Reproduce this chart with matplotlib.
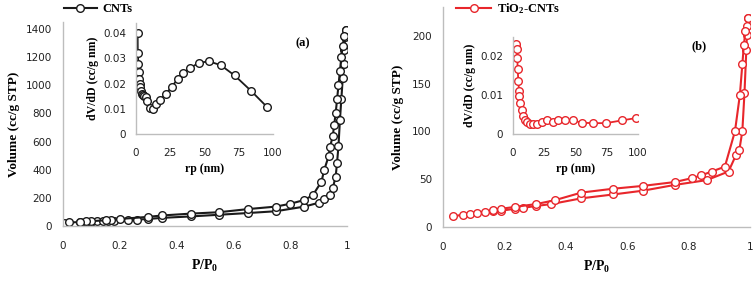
import matplotlib
matplotlib.use("Agg")
import matplotlib.pyplot as plt
from matplotlib.lines import Line2D

plt.rcParams["mathtext.fontset"] = "custom"
plt.rcParams["mathtext.rm"] = "Liberation Serif:bold"
plt.rcParams["mathtext.bf"] = "Liberation Serif:bold"
plt.rcParams["mathtext.it"] = "Liberation Serif:bold"

# ---- data ----
cnt_ads_p = [0.005, 0.02, 0.06, 0.08, 0.1, 0.12, 0.14, 0.16, 0.18, 0.23, 0.26, 0.3, 0.35, 0.45, 0.55,
             0.65, 0.75, 0.85, 0.9, 0.92, 0.94, 0.95, 0.96, 0.965, 0.97, 0.975, 0.98, 0.985, 0.988,
             0.99, 0.993, 0.995]
cnt_ads_v = [18, 25, 28, 30, 31, 32, 33, 35, 37, 40, 45, 50, 58, 68, 80,
             92, 105, 138, 165, 195, 220, 270, 350, 450, 570, 750, 900, 1050, 1150,
             1250, 1340, 1390]
cnt_des_p = [0.995, 0.99, 0.985, 0.98, 0.975, 0.97, 0.965, 0.96, 0.955, 0.95, 0.94, 0.935, 0.92,
             0.91, 0.88, 0.85, 0.8, 0.75, 0.65, 0.55, 0.45, 0.35, 0.3, 0.2, 0.17, 0.15, 0.1,
             0.08, 0.06]
cnt_des_v = [1390, 1350, 1280, 1200, 1100, 1000, 900, 800, 720, 640, 560, 494, 400,
             315, 220, 185, 158, 138, 120, 98, 88, 75, 65, 50, 45, 40, 35,
             32, 30]

tio_ads_p = [0.033, 0.065, 0.087, 0.11, 0.136, 0.163, 0.188, 0.234, 0.26, 0.304, 0.353, 0.451,
             0.554, 0.652, 0.755, 0.859, 0.93, 0.954, 0.965, 0.975, 0.982, 0.988, 0.99, 0.995]
tio_ads_v = [11, 13, 14, 15, 16, 17, 17, 19, 20, 22, 24, 30,
             34, 38, 44, 49, 58, 75, 80, 100, 140, 185, 201, 218]
tio_des_p = [0.995, 0.99, 0.985, 0.98, 0.975, 0.967, 0.951, 0.918, 0.875, 0.842, 0.81, 0.755,
             0.652, 0.554, 0.451, 0.364, 0.304, 0.234, 0.188, 0.163]
tio_des_v = [218, 210, 205, 190, 170, 138, 100, 63, 58, 54, 51, 47,
             43, 40, 36, 28, 24, 21, 19, 18]

cnt_rp = [1.2, 1.3, 1.8, 2.0, 2.2, 2.6, 3.0, 3.5, 4.2, 5.0, 6.0, 7.0, 8.3, 10.3, 12.7, 14.5,
          17.5, 22, 26.2, 30.4, 34.3, 39.7, 45.8, 53.2, 61.8, 72, 83.8, 95.3]
cnt_dvdd = [0.0401, 0.032, 0.0276, 0.0247, 0.022, 0.020, 0.0188, 0.017, 0.016, 0.0155, 0.0150,
            0.0145, 0.0132, 0.0102, 0.0098, 0.0118, 0.0135, 0.016, 0.0188, 0.0218, 0.0242,
            0.0262, 0.0282, 0.0288, 0.0273, 0.0232, 0.0172, 0.0109]

tio_rp = [2.0, 2.4, 3.0, 3.5, 3.7, 4.3, 4.8, 5.0, 5.6, 6.9, 8.0, 9.6, 11.5, 13.6, 16, 19, 23,
          27, 32, 36, 41.6, 48, 55, 64, 74.4, 87, 98.4]
tio_dvdd = [0.0225, 0.0231, 0.0218, 0.0197, 0.0168, 0.0136, 0.0110, 0.0099, 0.0080, 0.0062,
            0.0047, 0.0036, 0.0030, 0.0026, 0.0027, 0.0026, 0.0032, 0.0035, 0.0032, 0.0036,
            0.0036, 0.0035, 0.0029, 0.0028, 0.0028, 0.0035, 0.0041]

main_xticks = [0, 0.2, 0.4, 0.6, 0.8, 1]
main_xticklabels = ["0", "0.2", "0.4", "0.6", "0.8", "1"]
left_yticks = [0, 200, 400, 600, 800, 1000, 1200, 1400]
right_yticks = [0, 50, 100, 150, 200]
inset_xticks = [0, 25, 50, 75, 100]
left_inset_yticks = [0, 0.01, 0.02, 0.03, 0.04]
left_inset_yticklabels = ["0", "0.01", "0.02", "0.03", "0.04"]
right_inset_yticks = [0, 0.01, 0.02]
right_inset_yticklabels = ["0", "0.01", "0.02"]

BLACK = "#1a1a1a"
RED = "#e8262b"
SPINE = "#bdbdbd"
TICKFONT = "DejaVu Sans"
LABFONT = "Liberation Serif"

W, H = 755, 285
fig = plt.figure(figsize=(W / 100, H / 100), dpi=100)
fig.patch.set_facecolor("white")


def ax_at(x0, x1, ytop, ybot):
    return fig.add_axes([x0 / W, 1 - ybot / H, (x1 - x0) / W, (ybot - ytop) / H])


def style(ax, fs=7.5, xpad=11, ypad=8):
    for s in ["top", "right"]:
        ax.spines[s].set_visible(False)
    for s in ["left", "bottom"]:
        ax.spines[s].set_color(SPINE)
        ax.spines[s].set_linewidth(1.0)
    ax.tick_params(length=0, labelsize=fs, labelcolor="#222222")
    ax.tick_params(axis="x", pad=xpad)
    ax.tick_params(axis="y", pad=ypad)
    for lab in ax.get_xticklabels() + ax.get_yticklabels():
        lab.set_fontfamily(TICKFONT)
    ax.patch.set_alpha(0)


mk = dict(marker="o", markersize=5.5, markerfacecolor="white", markeredgewidth=1.0, linewidth=1.5)

# ---- left main ----
axL = ax_at(63, 347, 22, 226)
axL.plot(cnt_ads_p, cnt_ads_v, color=BLACK, markeredgecolor=BLACK, **mk)
axL.plot(cnt_des_p, cnt_des_v, color=BLACK, markeredgecolor=BLACK, **mk)
axL.set_xlim(0, 1)
axL.set_ylim(0, 1450)
axL.set_xticks(main_xticks)
axL.set_xticklabels(main_xticklabels)
axL.set_yticks(left_yticks)
style(axL)
axL.set_ylabel("Volume (cc/g STP)", fontfamily=LABFONT, fontweight="bold", fontsize=9.5, labelpad=4)
axL.set_xlabel("P/P$_0$", fontfamily=LABFONT, fontweight="bold", fontsize=10, labelpad=5)
axL.text(0.82, 0.88, "(a)", transform=axL.transAxes, fontfamily=LABFONT, fontweight="bold", fontsize=9)

# ---- right main ----
axR = ax_at(443, 750, 7, 227)
axR.plot(tio_ads_p, tio_ads_v, color=RED, markeredgecolor=RED, **mk)
axR.plot(tio_des_p, tio_des_v, color=RED, markeredgecolor=RED, **mk)
axR.set_xlim(0, 1)
axR.set_ylim(0, 230)
axR.set_xticks(main_xticks)
axR.set_xticklabels(main_xticklabels)
axR.set_yticks(right_yticks)
style(axR)
axR.set_ylabel("Volume (cc/g STP)", fontfamily=LABFONT, fontweight="bold", fontsize=9.5, labelpad=6)
axR.set_xlabel("P/P$_0$", fontfamily=LABFONT, fontweight="bold", fontsize=10, labelpad=5)
axR.text(0.81, 0.81, "(b)", transform=axR.transAxes, fontfamily=LABFONT, fontweight="bold", fontsize=9)

# ---- left inset ----
mki = dict(marker="o", markersize=5.5, markerfacecolor="white", markeredgewidth=1.0, linewidth=1.3)
axLi = ax_at(136, 273, 23, 134)
axLi.plot(cnt_rp, cnt_dvdd, color=BLACK, markeredgecolor=BLACK, **mki)
axLi.set_xlim(0, 100)
axLi.set_ylim(0, 0.044)
axLi.set_xticks(inset_xticks)
axLi.set_yticks(left_inset_yticks)
axLi.set_yticklabels(left_inset_yticklabels)
style(axLi, fs=7.5, xpad=10, ypad=7)
axLi.set_ylabel("dV/dD (cc/g nm)", fontfamily=LABFONT, fontweight="bold", fontsize=8.5, labelpad=3)
axLi.set_xlabel("rp (nm)", fontfamily=LABFONT, fontweight="bold", fontsize=8.5, labelpad=4)

# ---- right inset ----
axRi = ax_at(513, 638, 37, 134)
axRi.plot(tio_rp, tio_dvdd, color=RED, markeredgecolor=RED, **mki)
axRi.set_xlim(0, 100)
axRi.set_ylim(0, 0.025)
axRi.set_xticks(inset_xticks)
axRi.set_yticks(right_inset_yticks)
axRi.set_yticklabels(right_inset_yticklabels)
style(axRi, fs=7.5, xpad=10, ypad=7)
axRi.set_ylabel("dV/dD (cc/g nm)", fontfamily=LABFONT, fontweight="bold", fontsize=8.5, labelpad=3)
axRi.set_xlabel("rp (nm)", fontfamily=LABFONT, fontweight="bold", fontsize=8.5, labelpad=4)

# ---- legends ----
hL = Line2D([], [], color=BLACK, markeredgecolor=BLACK, **mk)
hR = Line2D([], [], color=RED, markeredgecolor=RED, **mk)
fig.legend([hL], ["CNTs"], loc="center left", bbox_to_anchor=(64 / W, 1 - 9 / H), frameon=False,
           prop=dict(family=LABFONT, weight="bold", size=9), handlelength=2.6, handletextpad=0.5,
           borderpad=0, borderaxespad=0)
fig.legend([hR], ["TiO$_2$-CNTs"], loc="center left", bbox_to_anchor=(456 / W, 1 - 9 / H),
           frameon=False, prop=dict(family=LABFONT, weight="bold", size=9), handlelength=2.8,
           handletextpad=0.5, borderpad=0, borderaxespad=0)

fig.savefig("out.png", dpi=100, facecolor="white")
